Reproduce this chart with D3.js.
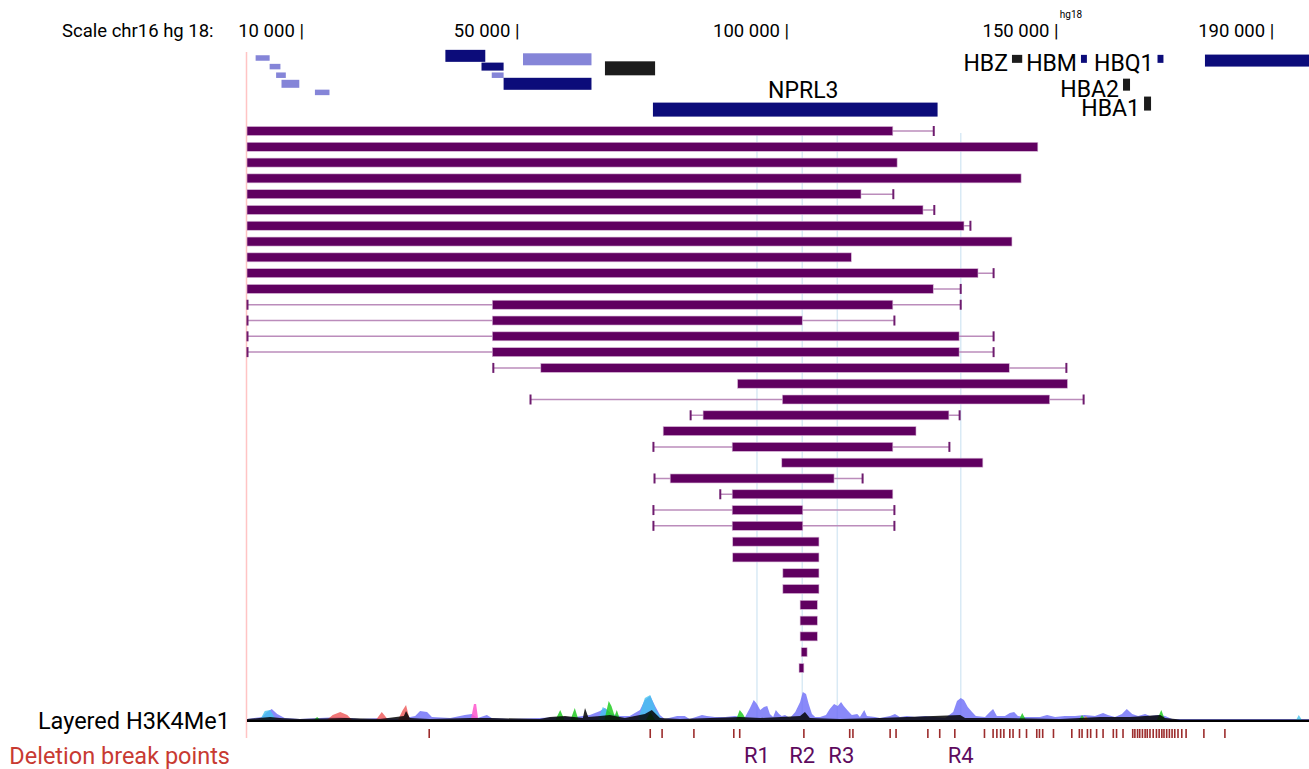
<!DOCTYPE html>
<html>
<head>
<meta charset="utf-8">
<script src="https://cdn.jsdelivr.net/npm/d3@7"></script>
<style>
body { margin: 0; background: #fff; }
svg { font-family: Roboto, "Noto Sans", sans-serif; }
</style>
</head>
<body>
<div id="chart"></div>
<script>

// positions are in kb on chr16 (hg18)
var scaleTicks = [10000, 50000, 100000, 150000, 190000];

// gene models: start, end, lane, kind (thickness), type (colour)
var genes = [
  {start: 1.6, end: 4.2, lane: 0, kind: "thin", type: "light"},
  {start: 4.2, end: 6.2, lane: 1, kind: "thin", type: "light"},
  {start: 5.4, end: 7.2, lane: 2, kind: "thin", type: "light"},
  {start: 6.4, end: 9.7, lane: 3, kind: "mid", type: "light"},
  {start: 12.6, end: 15.3, lane: 4, kind: "thin", type: "light"},
  {start: 36.8, end: 44.2, lane: -0.25, kind: "thick", type: "navy"},
  {start: 43.5, end: 47.6, lane: 1, kind: "mid", type: "navy"},
  {start: 45.4, end: 47.6, lane: 2, kind: "thin", type: "light"},
  {start: 47.6, end: 63.9, lane: 3, kind: "thick", type: "navy"},
  {start: 51.2, end: 63.9, lane: 0.15, kind: "thick", type: "light"},
  {start: 66.4, end: 75.7, lane: 1.2, kind: "xl", type: "black"},
  {start: 75.3, end: 128.1, lane: 6, kind: "xl", type: "navy", name: "NPRL3", label: "above"},
  {start: 141.9, end: 143.8, lane: 0.1, kind: "mid", type: "black", name: "HBZ", label: "left"},
  {start: 154.7, end: 155.8, lane: 0.1, kind: "mid", type: "navy", name: "HBM", label: "left"},
  {start: 168.9, end: 170.0, lane: 0.1, kind: "mid", type: "navy", name: "HBQ1", label: "left"},
  {start: 177.7, end: 197.0, lane: 0.3, kind: "thick", type: "navy"},
  {start: 162.5, end: 163.8, lane: 3.1, kind: "thick", type: "black", name: "HBA2", label: "left"},
  {start: 166.4, end: 167.7, lane: 5.3, kind: "xl", type: "black", name: "HBA1", label: "left"}
];

// deletions: core extent and uncertain flanks (null = none)
var delStart = [0, 0, 0, 0, 0, 0, 0, 0, 0, 0, 0, 45.5, 45.5, 45.5, 45.5, 54.5, 91.0, 99.3, 84.6, 77.2,
  90.0, 99.2, 78.5, 90.0, 90.0, 90.0, 90.1, 90.1, 99.4, 99.4, 102.6, 102.6, 102.6, 102.8, 102.4];
var delEnd = [119.8, 146.7, 120.6, 143.6, 113.9, 125.4, 133.0, 141.9, 112.1, 135.6, 127.3, 119.8, 103.0, 132.1, 132.1, 141.4, 152.2, 148.9, 130.2, 124.1,
  119.8, 136.5, 108.9, 119.8, 103.1, 103.1, 106.1, 106.1, 106.1, 106.1, 105.8, 105.8, 105.8, 103.9, 103.3];
var flankLeft = [null, null, null, null, null, null, null, null, null, null, null, 0, 0, 0, 0, 45.6, null, 52.5, 82.2, null,
  75.3, null, 75.5, 87.7, 75.3, 75.3, null, null, null, null, null, null, null, null, null];
var flankRight = [127.3, null, null, null, 119.8, 127.4, 134.1, null, null, 138.4, 132.3, 132.3, 120.0, 138.4, 138.4, 151.9, null, 155.1, 132.1, null,
  130.2, null, 114.1, null, 120.0, 120.0, null, null, null, null, null, null, null, null, null];

var regionNames = ["R1", "R2", "R3", "R4"];
var regionPos = [94.6, 103.0, 109.5, 132.4];

// layered H3K4Me1 signal, [kb, value]
var sigBlue = [[0, 1], [2.8, 3], [3.7, 8], [4.6, 11], [5.6, 6], [7.0, 2], [9.8, 1], [13.5, 2], [17.3, 3], [21.0, 1], [24.7, 2], [28.4, 1],
  [31.2, 4], [32.1, 9], [33.4, 8], [34.3, 3], [37.7, 2], [40.4, 5], [41.7, 6], [42.8, 2], [44.5, 5], [45.4, 2], [48.8, 1], [54.3, 2],
  [58.1, 3], [60.8, 3], [63.6, 5], [65.5, 9], [66.4, 12], [67.7, 6], [69.2, 4], [71.0, 4], [72.9, 10], [73.8, 20], [74.8, 24], [75.7, 14],
  [76.6, 5], [77.5, 1], [79.8, 4], [81.2, 4], [82.1, 1], [84.4, 5], [85.3, 4], [86.8, 3], [88.7, 3], [90.5, 4], [92.4, 3], [93.3, 12],
  [94.0, 20], [94.6, 16], [95.2, 10], [95.9, 13], [96.5, 14], [97.0, 6], [97.6, 3], [98.1, 10], [98.7, 6], [99.2, 4], [99.8, 5], [100.7, 2],
  [101.7, 8], [102.6, 18], [103.1, 28], [103.7, 26], [104.2, 16], [104.8, 6], [105.4, 3], [106.3, 3], [107.4, 5], [108.1, 11], [108.9, 16],
  [109.6, 14], [110.2, 18], [110.7, 14], [111.5, 9], [112.2, 5], [113.2, 6], [113.7, 3], [114.5, 10], [115.0, 4], [116.5, 3], [117.4, 2],
  [119.3, 4], [120.2, 6], [121.1, 3], [122.4, 4], [123.9, 3], [125.8, 4], [127.6, 3], [129.5, 2], [131.0, 8], [131.7, 19], [132.4, 22],
  [133.0, 20], [133.7, 13], [134.5, 8], [135.2, 4], [136.9, 3], [137.8, 8], [138.4, 11], [139.1, 4], [140.6, 4], [141.5, 7], [142.3, 8],
  [143.0, 4], [144.3, 3], [147.1, 3], [148.4, 5], [149.9, 3], [151.7, 4], [153.6, 4], [155.4, 5], [157.3, 4], [158.8, 7], [159.7, 5],
  [161.0, 3], [162.3, 6], [163.2, 11], [164.2, 6], [165.3, 4], [166.6, 6], [167.5, 4], [169.0, 5], [170.3, 4], [171.6, 1], [176.8, 1], [197, 1]];
var sigCyan = [[0, 0], [2.4, 0], [3.3, 9], [4.3, 10], [5.4, 0], [65.1, 0], [66.0, 13], [66.8, 10], [67.7, 0], [72.5, 0], [73.8, 22],
  [74.8, 25], [75.9, 10], [77.0, 0], [194.6, 0], [195.1, 5], [195.7, 0], [197, 0]];
var sigGreen = [[0, 0], [12.4, 0], [13.0, 3], [13.6, 0], [57.2, 0], [58.1, 10], [58.9, 0], [60.0, 0], [60.8, 12], [61.5, 0], [66.3, 0],
  [67.1, 19], [67.6, 14], [68.2, 4], [68.6, 10], [69.2, 0], [74.0, 0], [74.8, 8], [75.7, 0], [90.7, 0], [91.4, 10], [92.0, 6], [92.6, 0],
  [143.2, 0], [143.8, 7], [144.5, 0], [154.3, 0], [154.9, 5], [155.5, 0], [168.8, 0], [169.6, 10], [170.3, 0], [197, 0]];
var sigRed = [[0, 0], [14.8, 0], [15.9, 5], [17.3, 8], [18.6, 5], [19.5, 0], [23.9, 0], [25.0, 8], [26.2, 0], [28.0, 0], [28.9, 10],
  [29.5, 15], [30.2, 0], [197, 0]];
var sigPink = [[0, 0], [41.5, 0], [42.1, 16], [42.5, 16], [42.9, 0], [197, 0]];
var sigOrange = [[0, 0], [155.0, 0], [155.6, 4], [156.2, 0], [197, 0]];
var sigBlack = [[0, 1], [4.3, 3], [6.1, 2], [9.8, 1], [18.2, 2], [24.7, 1], [29.1, 4], [29.5, 9], [30.2, 2], [33.9, 1], [41.4, 2],
  [45.1, 2], [54.3, 1], [56.2, 3], [59.0, 4], [62.3, 2], [62.7, 12], [63.3, 3], [65.5, 4], [67.3, 5], [70.1, 2], [73.8, 6], [75.1, 10],
  [76.6, 2], [80.3, 1], [91.4, 3], [95.2, 2], [102.6, 4], [103.5, 8], [104.4, 2], [110.0, 1], [117.4, 2], [132.3, 5], [133.2, 2],
  [139.7, 2], [150.8, 1], [158.2, 3], [163.8, 3], [169.4, 5], [170.3, 2], [173.1, 0.5], [197, 0.5]];

var breakPoints = [33.8, 74.8, 77.0, 82.9, 90.3, 91.4, 103.3, 111.8, 112.4, 119.3, 120.4, 126.3, 128.5, 131.3,
  136.8, 138.4, 139.1, 139.8, 140.4, 141.5, 142.1, 143.3, 144.6, 146.5, 147.0, 147.6, 149.6, 153.0, 154.4, 154.9,
  155.9, 156.5, 157.6, 158.8, 160.7, 161.3, 162.5, 164.3, 164.7, 165.2, 165.6, 166.1, 166.6, 167.0, 167.5, 168.1,
  168.7, 169.2, 169.7, 170.1, 170.6, 171.1, 171.6, 172.1, 172.7, 173.4, 174.2, 177.5, 181.4];

var width = 1309, height = 769;
var x = d3.scaleLinear().domain([0, 197]).range([247, 1309]);
var rowY = d3.scalePoint().domain(d3.range(delStart.length)).range([131, 668]);
var laneY = d3.scaleLinear().domain([0, 6]).range([58, 109.6]);
var sigY = d3.scaleLinear().domain([0, 30]).range([720, 690]);
var kindH = {thin: 5.5, mid: 8, thick: 12, xl: 14};
var geneColor = {light: "#8585d8", navy: "#0c0c7a", black: "#1c1c1c"};
var barColor = "#600060";

var svg = d3.select("#chart").append("svg").attr("width", width).attr("height", height);

var fmt = d3.formatLocale({decimal: ".", thousands: " ", grouping: [3], currency: ["", ""]}).format(",d");

// scale header
svg.append("text").attr("x", 62).attr("y", 37).style("font-size", "18.5px").text("Scale chr16 hg 18:");
svg.append("text").attr("x", 1071).attr("y", 18).attr("text-anchor", "middle").style("font-size", "10px").text("hg18");
svg.selectAll("text.tick").data(scaleTicks).enter().append("text")
  .attr("class", "tick")
  .attr("x", function(d){ return x(d / 1000) + 3; })
  .attr("y", 37)
  .attr("text-anchor", "end")
  .style("font-size", "18.5px")
  .text(function(d){ return fmt(d) + " |"; });

// region guide lines
svg.selectAll("line.region").data(regionPos).enter().append("line")
  .attr("class", "region")
  .attr("x1", function(d){ return x(d); })
  .attr("x2", function(d){ return x(d); })
  .attr("y1", 133).attr("y2", 722)
  .style("stroke", "#d9eaf5").style("stroke-width", 1.5);

svg.append("line").attr("x1", 246.5).attr("x2", 246.5).attr("y1", 52).attr("y2", 738)
  .style("stroke", "#ffc4c4").style("stroke-width", 1.5);

// genes
svg.append("g").selectAll("rect").data(genes).enter().append("rect")
  .attr("x", function(d){ return x(d.start); })
  .attr("width", function(d){ return x(d.end) - x(d.start); })
  .attr("y", function(d){ return laneY(d.lane) - kindH[d.kind] / 2; })
  .attr("height", function(d){ return kindH[d.kind]; })
  .style("fill", function(d){ return geneColor[d.type]; });

svg.append("g").selectAll("text").data(genes.filter(function(d){ return d.name; })).enter().append("text")
  .attr("x", function(d){ return d.label == "above" ? x((d.start + d.end) / 2) + 8 : x(d.start) - 4; })
  .attr("y", function(d){ return d.label == "above" ? laneY(d.lane) - 12 : laneY(d.lane) + 12; })
  .attr("text-anchor", function(d){ return d.label == "above" ? "middle" : "end"; })
  .style("font-size", "23px")
  .text(function(d){ return d.name; });

// deletions
var rows = svg.append("g").selectAll("g").data(d3.range(delStart.length)).enter().append("g");
rows.each(function(i){
  var g = d3.select(this), y = rowY(i);
  var lo = flankLeft[i] != null ? flankLeft[i] : delStart[i];
  var hi = flankRight[i] != null ? flankRight[i] : delEnd[i];
  if (lo < delStart[i] || hi > delEnd[i]) {
    g.append("line").attr("x1", x(lo)).attr("x2", x(hi)).attr("y1", y).attr("y2", y)
      .style("stroke", "#bb8cbb").style("stroke-width", 1.5);
  }
  [flankLeft[i], flankRight[i]].forEach(function(f){
    if (f == null) return;
    g.append("line").attr("x1", x(f) + 0.5).attr("x2", x(f) + 0.5).attr("y1", y - 5).attr("y2", y + 5)
      .style("stroke", "#6e1b6e").style("stroke-width", 2);
  });
  g.append("rect").attr("x", x(delStart[i])).attr("width", x(delEnd[i]) - x(delStart[i]))
    .attr("y", y - 4.5).attr("height", 9)
    .style("fill", barColor).style("stroke", "#d9b9d9").style("stroke-width", 0.6);
});

// signal track
var area = d3.area()
  .x(function(d){ return x(d[0]); })
  .y0(sigY(0))
  .y1(function(d){ return sigY(d[1]); });
var layers = [
  [sigBlue, "#6b6bf7", 0.8],
  [sigCyan, "#45c3ef", 0.8],
  [sigGreen, "#22cc22", 0.85],
  [sigRed, "#ee5555", 0.8],
  [sigPink, "#ff55cc", 0.85],
  [sigOrange, "#f0a030", 0.8],
  [sigBlack, "#050505", 0.85]
];
svg.append("g").selectAll("path").data(layers).enter().append("path")
  .attr("d", function(d){ return area(d[0]); })
  .style("fill", function(d){ return d[1]; })
  .style("fill-opacity", function(d){ return d[2]; });

svg.append("line").attr("x1", 247).attr("x2", 1309).attr("y1", 721).attr("y2", 721)
  .style("stroke", "#000").style("stroke-width", 2);

// deletion break points
svg.append("g").selectAll("line").data(breakPoints).enter().append("line")
  .attr("x1", function(d){ return x(d); })
  .attr("x2", function(d){ return x(d); })
  .attr("y1", 729).attr("y2", 738)
  .style("stroke", "#9c2c2c").style("stroke-width", 1.6);

svg.selectAll("text.region").data(regionNames).enter().append("text")
  .attr("class", "region")
  .attr("x", function(d, i){ return x(regionPos[i]) + (i == 2 ? 4 : 0); })
  .attr("y", 763)
  .attr("text-anchor", "middle")
  .style("font-size", "22px")
  .style("fill", "#5e0a5e")
  .text(function(d){ return d; });

svg.append("text").attr("x", 230).attr("y", 729).attr("text-anchor", "end")
  .style("font-size", "23.5px").text("Layered H3K4Me1");
svg.append("text").attr("x", 230).attr("y", 764).attr("text-anchor", "end")
  .style("font-size", "23.5px").style("fill", "#c83a32").text("Deletion break points");

</script>
</body>
</html>
